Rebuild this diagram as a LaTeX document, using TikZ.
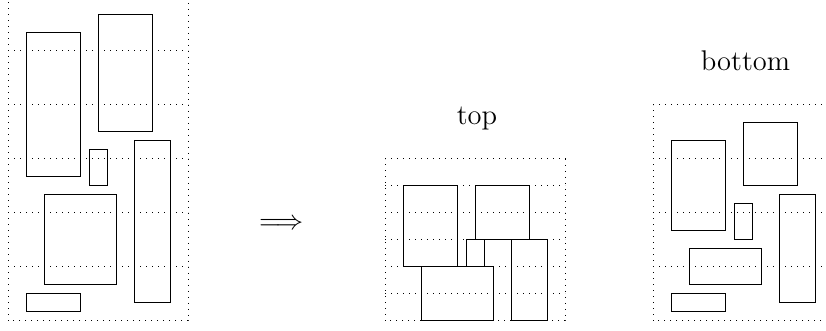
\documentclass[tikz,border=0pt]{standalone}
\usepackage{fontspec}
\begin{document}
\begin{tikzpicture}[x=0.4pt,y=0.4pt,
  panelgrid/.style={line width=0.4pt, dash pattern=on 0.4pt off 2pt},
  block/.style={draw, line width=0.4pt},
  caption/.style={font=\fontsize{11.4}{14}\selectfont, inner sep=0pt, anchor=base}]
\useasboundingbox (0,0) rectangle (826,331);
\clip (0,0) rectangle (826,331);

% unsorted blocks on a 3-unit grid
\begin{scope}[shift={(3.2pt,4pt)}, x=7.2pt, y=7.2pt]
  \draw[panelgrid] (0,0) rectangle (10,18);
  \foreach \r in {3,6,...,15} \draw[panelgrid] (0,\r) -- (10,\r);
  \draw[block] (1,8) rectangle (4,16);
  \draw[block] (5,10.5) rectangle (8,17);
  \draw[block] (4.5,7.5) rectangle (5.5,9.5);
  \draw[block] (7,1) rectangle (9,10);
  \draw[block] (2,2) rectangle (6,7);
  \draw[block] (1,0.5) rectangle (4,1.5);
\end{scope}

\node[font=\fontsize{10.95}{13}\selectfont, inner sep=0pt] (arrow) at (281.2,106.3) {$\Longrightarrow$};

% blocks snapped to the top of their rows
\begin{scope}[shift={(154pt,4pt)}, x=7.2pt, y=7.2pt]
  \draw[panelgrid] (0,0) rectangle (10,9);
  \foreach \r in {1.5,3,...,7.5} \draw[panelgrid] (0,\r) -- (10,\r);
  \draw[block] (1,3) rectangle (4,7.5);
  \draw[block] (5,4.5) rectangle (8,7.5);
  \draw[block] (4.5,3) rectangle (5.5,4.5);
  \draw[block] (7,0) rectangle (9,4.5);
  \draw[block] (2,0) rectangle (6,3);
\end{scope}
\node[caption] (toplabel) at (477,206) {top};

% blocks packed towards the bottom
\begin{scope}[shift={(261.2pt,4pt)}, x=7.2pt, y=7.2pt]
  \draw[panelgrid] (0,0) rectangle (10,12);
  \foreach \r in {3,6,9} \draw[panelgrid] (0,\r) -- (10,\r);
  \draw[block] (1,5) rectangle (4,10);
  \draw[block] (5,7.5) rectangle (8,11);
  \draw[block] (4.5,4.5) rectangle (5.5,6.5);
  \draw[block] (7,1) rectangle (9,7);
  \draw[block] (2,2) rectangle (6,4);
  \draw[block] (1,0.5) rectangle (4,1.5);
\end{scope}
\node[caption] (bottomlabel) at (745.5,260) {bottom};
\end{tikzpicture}
\end{document}
